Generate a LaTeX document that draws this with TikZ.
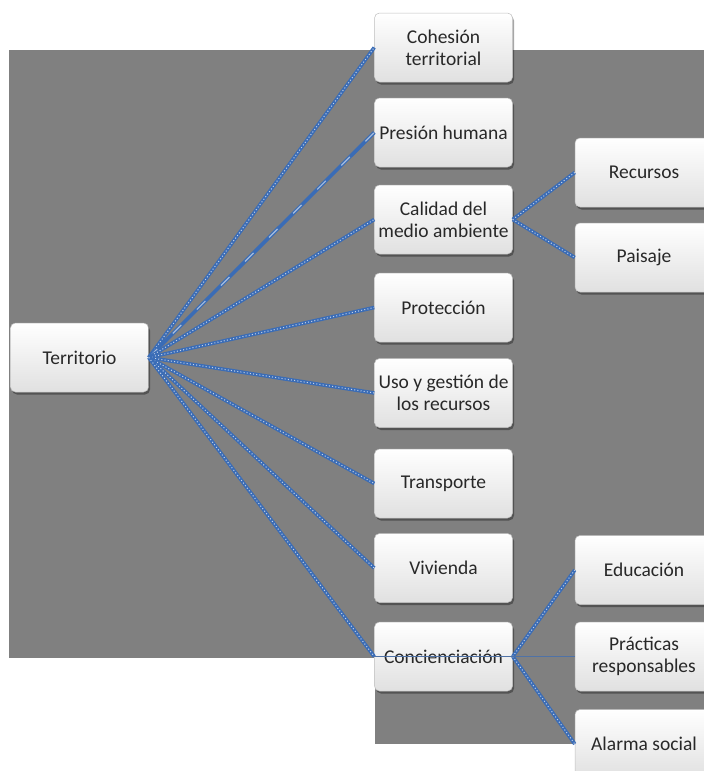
\documentclass[tikz,border=0pt]{standalone}
\usepackage{fontspec}
\setmainfont{Carlito}
\usetikzlibrary{shadows}
\definecolor{cblue}{RGB}{58,108,182}
\definecolor{bg}{RGB}{128,128,128}
\definecolor{txt}{RGB}{40,40,40}
\tikzset{
  box/.style={rectangle, rounded corners=5pt, minimum width=138pt, minimum height=69pt,
    inner sep=2pt, align=center, top color=white, bottom color=black!12, draw=black!25,
    line width=0.5pt, text=txt, font=\fontsize{19.5}{22}\selectfont,
    drop shadow={shadow xshift=1.5pt, shadow yshift=-2.5pt, fill=black, opacity=0.35}},
  conn/.style={draw=cblue, line width=3.6pt,
    postaction={draw=white!70!cblue, line width=1pt, dash pattern=on 1pt off 2.2pt}},
  connsolid/.style={draw=cblue, line width=3.6pt,
    postaction={draw=white!55!cblue, line width=1.2pt, dash pattern=on 12pt off 22pt}},
  thin/.style={draw=cblue!70!gray, line width=0.8pt}
}
\begin{document}
\begin{tikzpicture}[x=1pt,y=-1pt]
\useasboundingbox (0,0) rectangle (704,771);
\fill[bg] (9,50) rectangle (704,658);
\fill[bg] (375,658) rectangle (704,744);
% nodes
\node[box] (terr) at (79.5,357.5) {Territorio};
\node[box] (cohe) at (443.5,47.5) {Cohesión\\territorial};
\node[box] (pres) at (443.5,132.5) {Presión humana};
\node[box] (cali) at (443.5,219.5) {Calidad del\\medio ambiente};
\node[box] (prot) at (443.5,307.5) {Protección};
\node[box] (uso) at (443.5,393) {Uso y gestión de\\los recursos};
\node[box] (tran) at (443.5,483.5) {Transporte};
\node[box] (vivi) at (443.5,568) {Vivienda};
\node[box] (conc) at (443.5,656.5) {Concienciación};
\node[box] (recu) at (644,172.5) {Recursos};
\node[box] (pais) at (644,257.5) {Paisaje};
\node[box] (educ) at (644,570) {Educación};
\node[box] (prac) at (644,656.5) {Prácticas\\responsables};
\node[box] (alar) at (644,744) {Alarma social};
% connectors
\draw[conn] (terr.east) -- (cohe.west);
\draw[connsolid] (terr.east) -- (pres.west);
\draw[conn] (terr.east) -- (cali.west);
\draw[conn] (terr.east) -- (prot.west);
\draw[conn] (terr.east) -- (uso.west);
\draw[conn] (terr.east) -- (tran.west);
\draw[conn] (terr.east) -- (vivi.west);
\draw[conn] (terr.east) -- (conc.west);
\draw[conn] (cali.east) -- (recu.west);
\draw[conn] (cali.east) -- (pais.west);
\draw[conn] (conc.east) -- (educ.west);
\draw[conn] (conc.east) -- (alar.west);
\draw[thin] (conc.west) -- (prac.west);
\end{tikzpicture}
\end{document}
